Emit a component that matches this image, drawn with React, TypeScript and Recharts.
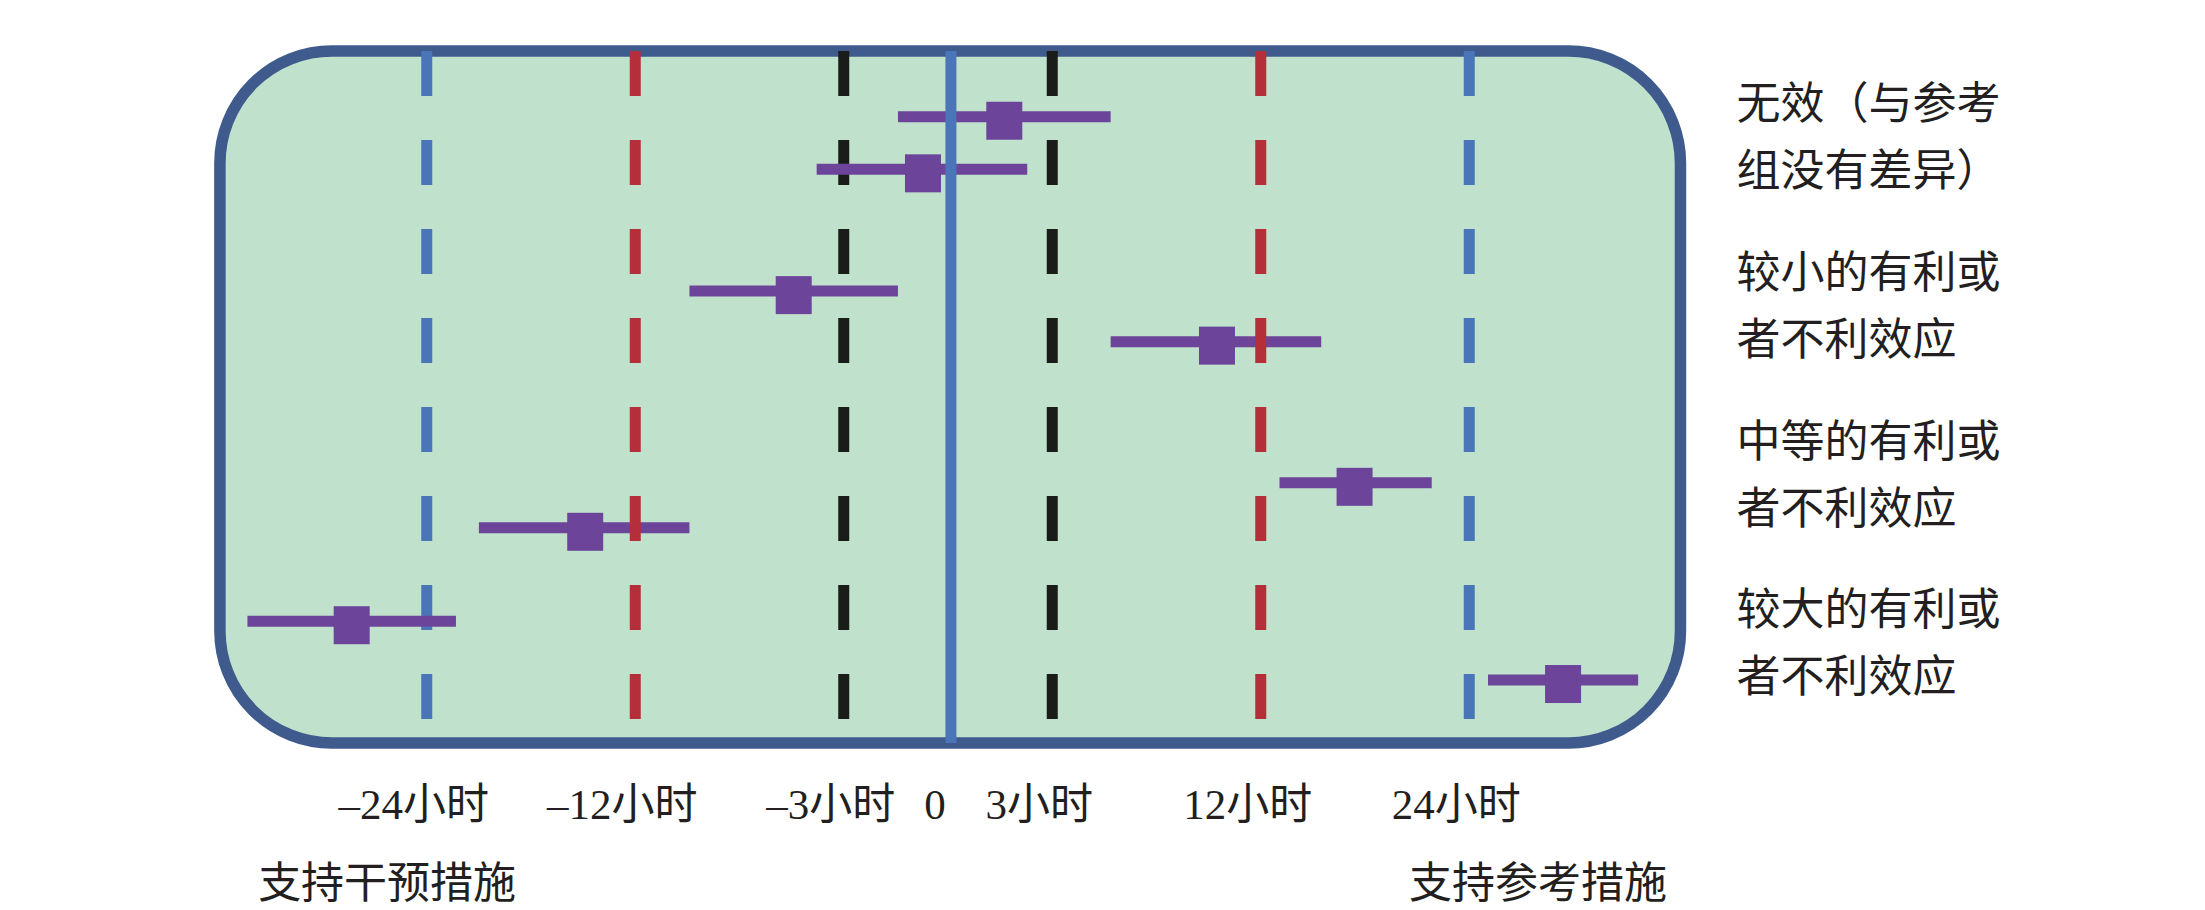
import {
  ScatterChart,
  Scatter,
  XAxis,
  YAxis,
  ErrorBar,
  ReferenceArea,
  ReferenceLine,
  ReferenceDot,
} from 'recharts';

// x runs on a position scale: one step between guide lines, 0 halfway between -3 h and 3 h
const tickPositions = [-2.5, -1.5, -0.5, 0, 0.5, 1.5, 2.5];
const tickLabels = ['–24小时', '–12小时', '–3小时', '0', '3小时', '12小时', '24小时'];

const guidePositions = [-2.5, -1.5, -0.5, 0.5, 1.5, 2.5];
const guideKinds = ['large', 'medium', 'small', 'small', 'medium', 'large'];

// rows top to bottom: square = estimate, bar = confidence interval
const rowPositions = [0.95, 1.71, 3.47, 4.2, 6.24, 6.89, 8.24, 9.09];
const estimates = [0.27, -0.12, -0.74, 1.29, 1.95, -1.74, -2.86, 2.95];
const lowerLimits = [-0.24, -0.63, -1.24, 0.78, 1.59, -2.25, -3.36, 2.59];
const upperLimits = [0.78, 0.38, -0.24, 1.79, 2.32, -1.24, -2.36, 3.31];

const effectLabels = [
  ['无效（与参考', '组没有差异）'],
  ['较小的有利或', '者不利效应'],
  ['中等的有利或', '者不利效应'],
  ['较大的有利或', '者不利效应'],
];
const effectLabelRows = [1.19, 3.63, 6.07, 8.51];

const sideNotes = ['支持干预措施', '支持参考措施'];
const sideNotePositions = [-2.69, 2.83];
const sideNoteRow = 11.96;

const rows = rowPositions.map((row, i) => ({
  row,
  pos: estimates[i],
  err: [estimates[i] - lowerLimits[i], upperLimits[i] - estimates[i]],
}));

const GUIDE_COLORS: Record<string, string> = {
  large: '#4a75b9',
  medium: '#b42f39',
  small: '#1a1c19',
};
const PURPLE = '#6c449a';
const TEXT = '#231f20';
const CJK = "'Noto Sans CJK SC', sans-serif";

function Box(p: any) {
  return (
    <rect
      x={p.x}
      y={p.y}
      width={p.width}
      height={p.height}
      rx={112}
      ry={112}
      fill="#c0e2cc"
      stroke="#3f5b8d"
      strokeWidth={11.5}
    />
  );
}

function Square(p: any) {
  return <rect x={p.cx - 18} y={p.cy - 15} width={36} height={38} fill={PURPLE} />;
}

function HourTick({ x, y, payload }: any) {
  const i = tickPositions.indexOf(payload.value);
  return (
    <text
      x={x}
      y={y + 61}
      dx={-13}
      textAnchor="middle"
      dominantBaseline="central"
      fontSize={43}
      fontFamily={"'Liberation Serif', 'Noto Sans CJK SC', serif"}
      fill={TEXT}
    >
      {tickLabels[i]}
    </text>
  );
}

function EffectTick({ x, y, payload }: any) {
  const lines = effectLabels[effectLabelRows.indexOf(payload.value)] || [];
  return (
    <g>
      {lines.map((t, k) => (
        <text
          key={t}
          x={x}
          y={y - 33.5 + k * 67}
          textAnchor="start"
          dominantBaseline="central"
          fontSize={44}
          fontFamily={CJK}
          fill={TEXT}
        >
          {t}
        </text>
      ))}
    </g>
  );
}

function Note({ viewBox, text }: any) {
  return (
    <text
      x={viewBox.x + viewBox.width / 2}
      y={viewBox.y + viewBox.height / 2}
      textAnchor="middle"
      dominantBaseline="central"
      fontSize={43}
      fontFamily={CJK}
      fill={TEXT}
    >
      {text}
    </text>
  );
}

export default function App() {
  return (
    <div style={{ position: 'absolute', left: 0, top: 0, width: 2205, height: 910, background: '#fff' }}>
      <ScatterChart width={2205} height={910} margin={{ top: 51, right: 0, bottom: 67, left: 114 }}>
        <XAxis
          type="number"
          dataKey="pos"
          domain={[-4, 3.6]}
          allowDataOverflow
          ticks={tickPositions}
          interval={0}
          height={100}
          axisLine={false}
          tickLine={false}
          tickSize={0}
          tickMargin={0}
          tick={<HourTick />}
        />
        <YAxis yAxisId="main" type="number" dataKey="row" domain={[0, 10]} allowDataOverflow reversed hide />
        <YAxis
          yAxisId="side"
          orientation="right"
          type="number"
          domain={[0, 10]}
          allowDataOverflow
          reversed
          ticks={effectLabelRows}
          interval={0}
          width={506.4}
          axisLine={false}
          tickLine={false}
          tickSize={0}
          tickMargin={38}
          tick={<EffectTick />}
        />

        {/* rounded panel */}
        <ReferenceArea
          yAxisId="main"
          x1={-3.492}
          x2={3.513}
          y1={0}
          y2={10}
          ifOverflow="visible"
          shape={Box}
        />

        {/* black and outer blue guides sit under the estimates */}
        {guidePositions.map((g, i) =>
          guideKinds[i] === 'medium' ? null : (
            <ReferenceLine
              key={'lo' + g}
              yAxisId="main"
              segment={[{ x: g, y: 0 }, { x: g, y: 10 }]}
              stroke={GUIDE_COLORS[guideKinds[i]]}
              strokeWidth={11}
              strokeDasharray="45 44"
              ifOverflow="visible"
              zIndex={300}
            />
          )
        )}

        <Scatter yAxisId="main" data={rows} shape={Square} isAnimationActive={false}>
          <ErrorBar dataKey="err" direction="x" width={0} strokeWidth={11} stroke={PURPLE} isAnimationActive={false} />
        </Scatter>

        {/* red guides and the zero line are drawn over the bars */}
        {guidePositions.map((g, i) =>
          guideKinds[i] !== 'medium' ? null : (
            <ReferenceLine
              key={'hi' + g}
              yAxisId="main"
              segment={[{ x: g, y: 0 }, { x: g, y: 10 }]}
              stroke={GUIDE_COLORS.medium}
              strokeWidth={11}
              strokeDasharray="45 44"
              ifOverflow="visible"
              zIndex={700}
            />
          )
        )}
        <ReferenceLine
          yAxisId="main"
          segment={[{ x: 0.014, y: 0 }, { x: 0.014, y: 10 }]}
          stroke="#4a75b9"
          strokeWidth={11}
          ifOverflow="visible"
          zIndex={700}
        />

        {/* direction notes under the axis */}
        {sideNotes.map((t, i) => (
          <ReferenceDot
            key={t}
            yAxisId="main"
            x={sideNotePositions[i]}
            y={sideNoteRow}
            r={0}
            fill="none"
            stroke="none"
            ifOverflow="visible"
            label={<Note text={t} />}
          />
        ))}
      </ScatterChart>
    </div>
  );
}
